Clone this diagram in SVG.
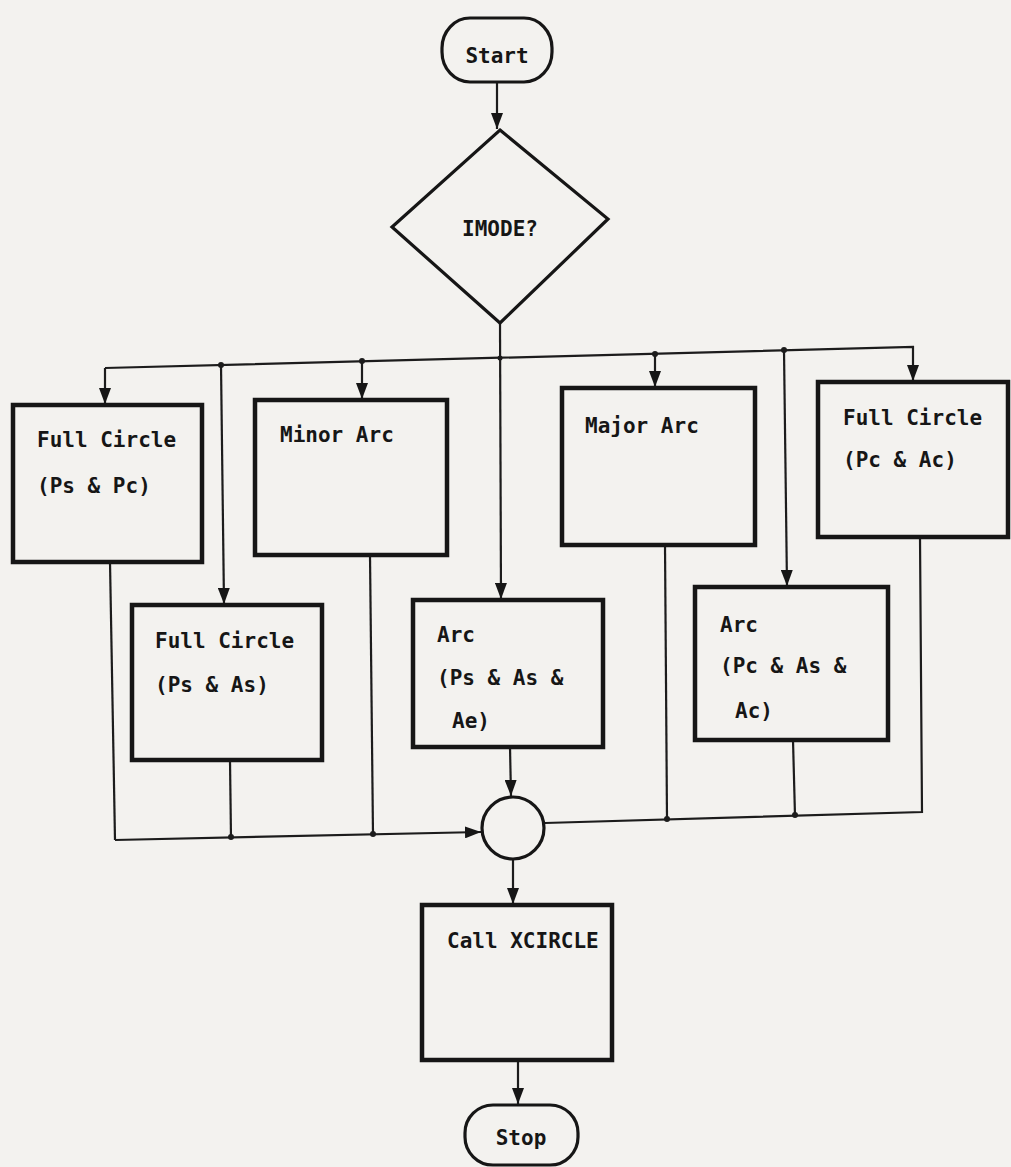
<svg xmlns="http://www.w3.org/2000/svg" width="1011" height="1167" viewBox="0 0 1011 1167">
<defs>
<style>
.bg{fill:#f3f2ef}
.box{fill:none;stroke:#161616;stroke-width:4.5}
.term{fill:none;stroke:#161616;stroke-width:3.2}
.con{fill:none;stroke:#1c1c1c;stroke-width:2.2}
.dot{fill:#1c1c1c}
text{font-family:"DejaVu Sans Mono","Liberation Mono",monospace;font-weight:bold;font-size:21px;fill:#161616}
</style>
<marker id="arr" markerUnits="userSpaceOnUse" markerWidth="16" markerHeight="12" viewBox="0 0 16 12" refX="16" refY="6" orient="auto">
<path d="M0,0 L16,6 L0,12 Z" fill="#161616"/>
</marker>
</defs>
<rect class="bg" x="0" y="0" width="1011" height="1167"/>

<g id="connectors">
<line class="con" x1="497" y1="82" x2="497" y2="129" marker-end="url(#arr)"/>
<polyline class="con" points="105,368 913,347 913,381" marker-end="url(#arr)"/>
<line class="con" x1="105" y1="368" x2="105" y2="404" marker-end="url(#arr)"/>
<line class="con" x1="221" y1="365" x2="224" y2="604" marker-end="url(#arr)"/>
<line class="con" x1="362" y1="361" x2="362" y2="399" marker-end="url(#arr)"/>
<line class="con" x1="500" y1="323" x2="501" y2="599" marker-end="url(#arr)"/>
<line class="con" x1="655" y1="354" x2="655" y2="387" marker-end="url(#arr)"/>
<line class="con" x1="784" y1="350" x2="787" y2="586" marker-end="url(#arr)"/>
<circle class="dot" cx="221" cy="365" r="3"/>
<circle class="dot" cx="362" cy="361" r="3"/>
<circle class="dot" cx="500" cy="358" r="2.5"/>
<circle class="dot" cx="655" cy="354" r="3"/>
<circle class="dot" cx="784" cy="350" r="3"/>
<line class="con" x1="110" y1="562" x2="115" y2="840"/>
<line class="con" x1="230" y1="760" x2="231" y2="838"/>
<line class="con" x1="370" y1="555" x2="373" y2="835"/>
<polyline class="con" points="115,840 481,832" marker-end="url(#arr)"/>
<circle class="dot" cx="231" cy="837" r="3"/>
<circle class="dot" cx="373" cy="834" r="3"/>
<line class="con" x1="510" y1="747" x2="511" y2="796" marker-end="url(#arr)"/>
<polyline class="con" points="545,823 922,812 920,537"/>
<line class="con" x1="665" y1="545" x2="667" y2="819"/>
<line class="con" x1="793" y1="740" x2="795" y2="816"/>
<circle class="dot" cx="667" cy="819" r="3"/>
<circle class="dot" cx="795" cy="815" r="3"/>
<line class="con" x1="513" y1="859" x2="513" y2="904" marker-end="url(#arr)"/>
<line class="con" x1="518" y1="1060" x2="518" y2="1104" marker-end="url(#arr)"/>
</g>

<g id="start">
<rect class="term" x="442" y="18" width="110" height="64" rx="28" ry="30"/>
<text x="497" y="63" text-anchor="middle">Start</text>
</g>

<g id="imode">
<polygon class="term" points="500,130 608,219 500,323 392,227"/>
<text x="500" y="236" text-anchor="middle">IMODE?</text>
</g>

<g id="full-circle-ps-pc">
<rect class="box" x="13" y="405" width="189" height="157"/>
<text x="37" y="447">Full Circle</text>
<text x="37" y="493">(Ps &amp; Pc)</text>
</g>

<g id="full-circle-ps-as">
<rect class="box" x="132" y="605" width="190" height="155"/>
<text x="155" y="648">Full Circle</text>
<text x="155" y="692">(Ps &amp; As)</text>
</g>

<g id="minor-arc">
<rect class="box" x="255" y="400" width="192" height="155"/>
<text x="280" y="442">Minor Arc</text>
</g>

<g id="arc-ps-as-ae">
<rect class="box" x="413" y="600" width="190" height="147"/>
<text x="437" y="642">Arc</text>
<text x="437" y="685">(Ps &amp; As &amp;</text>
<text x="452" y="728">Ae)</text>
</g>

<g id="major-arc">
<rect class="box" x="562" y="388" width="193" height="157"/>
<text x="585" y="433">Major Arc</text>
</g>

<g id="arc-pc-as-ac">
<rect class="box" x="695" y="587" width="193" height="153"/>
<text x="720" y="632">Arc</text>
<text x="720" y="673">(Pc &amp; As &amp;</text>
<text x="735" y="718">Ac)</text>
</g>

<g id="full-circle-pc-ac">
<rect class="box" x="818" y="382" width="190" height="155"/>
<text x="843" y="425">Full Circle</text>
<text x="843" y="467">(Pc &amp; Ac)</text>
</g>

<g id="junction">
<circle class="term" cx="513" cy="828" r="31"/>
</g>

<g id="call-xcircle">
<rect class="box" x="422" y="905" width="190" height="155"/>
<text x="447" y="948">Call XCIRCLE</text>
</g>

<g id="stop">
<rect class="term" x="465" y="1105" width="113" height="60" rx="28" ry="28"/>
<text x="521" y="1145" text-anchor="middle">Stop</text>
</g>
</svg>
